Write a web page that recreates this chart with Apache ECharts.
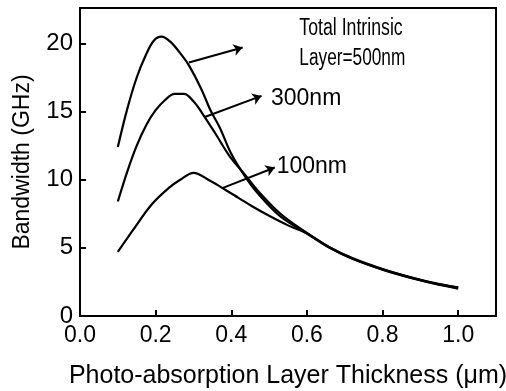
<!DOCTYPE html>
<html><head><meta charset="utf-8">
<script src="https://cdn.jsdelivr.net/npm/echarts@6/dist/echarts.min.js"></script>
<style>html,body{margin:0;padding:0;background:#fff}#c{width:506px;height:391px}</style>
</head><body><div id="c"></div>
<script>
const xTicks = [0, 0.2, 0.4, 0.6, 0.8, 1.0];
const yTicks = [0, 5, 10, 15, 20];

const x500 = [0.10, 0.125, 0.15, 0.175, 0.195, 0.215, 0.24, 0.27, 0.29, 0.32, 0.345, 0.37, 0.40, 0.435, 0.47, 0.53, 0.60, 0.66, 0.72, 0.80, 0.88, 0.94, 1.0];
const y500 = [12.4, 15.2, 17.5, 19.2, 20.2, 20.5, 20.1, 19.1, 18.3, 16.7, 15.1, 13.8, 11.9, 10.3, 9.0, 7.3, 6.05, 5.0, 4.2, 3.4, 2.75, 2.35, 2.0];

const x300 = [0.10, 0.125, 0.15, 0.175, 0.20, 0.225, 0.25, 0.275, 0.30, 0.325, 0.36, 0.395, 0.435, 0.47, 0.53, 0.60, 0.66, 0.72, 0.80, 0.88, 0.94, 1.0];
const y300 = [8.4, 10.6, 12.5, 14.0, 15.1, 15.85, 16.3, 16.3, 15.75, 14.8, 13.3, 11.75, 10.4, 9.2, 7.5, 6.1, 5.05, 4.25, 3.45, 2.8, 2.4, 2.1];

const x100 = [0.10, 0.14, 0.19, 0.235, 0.265, 0.30, 0.345, 0.385, 0.42, 0.455, 0.50, 0.55, 0.60, 0.66, 0.72, 0.80, 0.88, 0.94, 1.0];
const y100 = [4.7, 6.3, 8.2, 9.4, 10.0, 10.5, 9.9, 9.25, 8.65, 8.05, 7.35, 6.65, 6.05, 5.02, 4.22, 3.42, 2.78, 2.38, 2.08];

// annotation arrows: [start, end] in data units
const arrow500 = [[0.288, 18.6], [0.43, 19.7]];
const arrow300 = [[0.33, 14.6], [0.48, 16.15]];
const arrow100 = [[0.378, 9.4], [0.515, 10.9]];

const labelTexts = ['Total Intrinsic', 'Layer=500nm', '300nm', '100nm'];
const labelPos = [[0.58, 21.1], [0.58, 18.9], [0.505, 15.95], [0.52, 10.95]];
const labelSizes = [23, 23, 23, 23];
const labelSquash = [0.77, 0.75, 1.0, 1.0];

const zip = (xs, ys) => xs.map((x, i) => [x, ys[i]]);
const font = 'Liberation Sans, Arial, Helvetica, sans-serif';
const curve = (name, xs, ys) => ({
  name, type: 'line', data: zip(xs, ys), smooth: 0.35, showSymbol: false,
  lineStyle: { color: '#000', width: 2.2 }, silent: true, z: 3
});

const chart = echarts.init(document.getElementById('c'));
chart.setOption({
  animation: false,
  backgroundColor: '#fff',
  grid: { left: 80, right: 10, top: 8, bottom: 75, show: true, borderColor: '#000', borderWidth: 2, containLabel: false, outerBoundsMode: 'none' },
  xAxis: {
    type: 'value', min: 0, max: 1.1, interval: 0.2,
    name: 'Photo-absorption Layer Thickness (μm)', nameLocation: 'middle', nameGap: 48,
    nameTextStyle: { fontFamily: font, fontSize: 25, color: '#000' },
    axisLine: { show: true, onZero: false, lineStyle: { color: '#000', width: 2 } },
    axisTick: { show: true, inside: true, length: 6, customValues: xTicks, lineStyle: { color: '#000', width: 2 } },
    axisLabel: { customValues: xTicks, formatter: v => v.toFixed(1), fontFamily: font, fontSize: 23, color: '#000', margin: 8 },
    splitLine: { show: false }
  },
  yAxis: {
    type: 'value', min: 0, max: 22.6, interval: 5,
    name: 'Bandwidth (GHz)', nameLocation: 'middle', nameGap: 46,
    nameTextStyle: { fontFamily: font, fontSize: 23, color: '#000' },
    axisLine: { show: true, onZero: false, lineStyle: { color: '#000', width: 2 } },
    axisTick: { show: true, inside: true, length: 6, customValues: yTicks, lineStyle: { color: '#000', width: 2 } },
    axisLabel: { customValues: yTicks, fontFamily: font, fontSize: 24, color: '#000', margin: 7 },
    splitLine: { show: false }
  },
  series: [
    curve('500nm', x500, y500),
    curve('300nm', x300, y300),
    curve('100nm', x100, y100),
    {
      type: 'lines', coordinateSystem: 'cartesian2d', silent: true, z: 4,
      symbol: ['none', 'arrow'], symbolSize: 9,
      lineStyle: { color: '#000', width: 2, opacity: 1 },
      data: [arrow500, arrow300, arrow100].map(c => ({ coords: c }))
    }
  ]
});

// annotation texts, anchored at data positions via the chart's own scales
chart.setOption({
  graphic: labelTexts.map((t, i) => {
    const p = chart.convertToPixel({ gridIndex: 0 }, labelPos[i]);
    return {
      type: 'text', x: p[0], y: p[1], scaleX: labelSquash[i], z: 10, silent: true,
      style: { text: t, fontFamily: font, fontSize: labelSizes[i], fill: '#000', verticalAlign: 'middle', align: 'left' }
    };
  })
});
</script></body></html>
